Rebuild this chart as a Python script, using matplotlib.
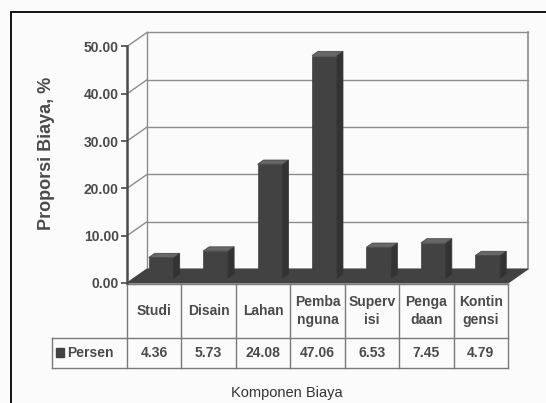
import matplotlib.pyplot as plt
from matplotlib.patches import Polygon, Rectangle

plt.rcParams['font.family'] = ['Liberation Sans', 'DejaVu Sans']

# cost components and their share of the total (%)
komponen = ['Studi', 'Disain', 'Lahan', 'Pemba\nnguna', 'Superv\nisi', 'Penga\ndaan', 'Kontin\ngensi']
persen = [4.36, 5.73, 24.08, 47.06, 6.53, 7.45, 4.79]
y_ticks = [0, 10, 20, 30, 40, 50]

bar_color = '#424242'
top_color = '#676767'
side_color = '#333333'
grid_color = '#8c8c8c'
text_color = '#4a4a4a'

fig = plt.figure(figsize=(5.46, 4.03), dpi=100)
fig.patch.set_facecolor('#fbfbfb')

# front plane of the 3d box: x 127..508 px, y 46.5..283 px
ax = fig.add_axes([127 / 546, 1 - 283 / 403, 381 / 546, 236.5 / 403])
ax.set_facecolor('none')
n = len(komponen)
ax.set_xlim(-0.5, n - 0.5)
ax.set_ylim(0, 50)

# depth of the box in data units (oblique projection)
DX = 20 / 54.43
DY = 14 / 4.73

# back wall, left wall slants and gridlines
x_back0, x_back1 = -0.5 + DX, n - 0.5 + DX
for v in y_ticks[1:]:
    ax.plot([-0.5, x_back0], [v, v + DY], color=grid_color, lw=1.0, clip_on=False, zorder=1)
    ax.plot([x_back0, x_back1], [v + DY, v + DY], color=grid_color, lw=1.0, clip_on=False, zorder=1)
ax.plot([x_back0, x_back0], [DY, 50 + DY], color=grid_color, lw=1.0, clip_on=False, zorder=1)
ax.plot([x_back1, x_back1], [DY, 50 + DY], color=grid_color, lw=1.2, clip_on=False, zorder=1)

# floor
floor = Polygon([(-0.5, 0), (n - 0.5, 0), (x_back1, DY), (x_back0, DY)],
                closed=True, facecolor=bar_color, edgecolor=bar_color, lw=0.8,
                clip_on=False, zorder=2)
ax.add_patch(floor)

# 3d columns: front face via bar, plus top and side faces
d0, d1 = 0.35, 0.65
w = 25 / 54.43
xs = [i + d0 * DX for i in range(n)]
ax.bar(xs, persen, width=w, bottom=d0 * DY, color=bar_color, edgecolor=bar_color,
       lw=0.5, clip_on=False, zorder=3)
ddx, ddy = (d1 - d0) * DX, (d1 - d0) * DY
for x, v in zip(xs, persen):
    xl, xr = x - w / 2, x + w / 2
    yt = v + d0 * DY
    top = Polygon([(xl, yt), (xr, yt), (xr + ddx, yt + ddy), (xl + ddx, yt + ddy)],
                  closed=True, facecolor=top_color, edgecolor=bar_color, lw=0.5,
                  clip_on=False, zorder=3)
    side = Polygon([(xr, d0 * DY), (xr, yt), (xr + ddx, yt + ddy), (xr + ddx, d0 * DY + ddy)],
                   closed=True, facecolor=side_color, edgecolor=side_color, lw=0.5,
                   clip_on=False, zorder=3)
    ax.add_patch(side)
    ax.add_patch(top)

# axis styling
for s in ['top', 'right', 'bottom']:
    ax.spines[s].set_visible(False)
ax.spines['left'].set_color('#4a4a4a')
ax.spines['left'].set_linewidth(1.8)
ax.spines['left'].set_zorder(4)
ax.set_xticks([])
ax.set_yticks(y_ticks)
ax.set_yticklabels([f'{t:.2f}' for t in y_ticks], fontsize=10, fontweight='bold', color=text_color)
ax.tick_params(axis='y', direction='out', length=4, width=1.2, pad=2, color='#4a4a4a')
ax.set_ylabel('Proporsi Biaya, %', fontsize=13, fontweight='bold', color=text_color)
ax.yaxis.set_label_coords(-0.19, 0.55)

# data table under the chart (x in data units, y in axes fraction)
tr = ax.get_xaxis_transform()
line_kw = dict(color='#7a7a7a', lw=1.0, transform=tr, clip_on=False)
y_head_top, y_head_bot, y_row_bot = -0.005, -0.2326, -0.3594
x_leg = -0.5 - 75 / 54.43
ax.plot([-0.5, n - 0.5], [y_head_top, y_head_top], **line_kw)
ax.plot([x_leg, n - 0.5], [y_head_bot, y_head_bot], **line_kw)
ax.plot([x_leg, n - 0.5], [y_row_bot, y_row_bot], **line_kw)
ax.plot([x_leg, x_leg], [y_head_bot, y_row_bot], **line_kw)
for i in range(n + 1):
    ax.plot([i - 0.5, i - 0.5], [y_head_top, y_row_bot], **line_kw)

for i, (k, v) in enumerate(zip(komponen, persen)):
    ax.text(i, (y_head_top + y_head_bot) / 2, k, transform=tr, ha='center', va='center',
            fontsize=10, fontweight='bold', color=text_color, linespacing=1.35)
    ax.text(i, (y_head_bot + y_row_bot) / 2, f'{v:.2f}', transform=tr, ha='center',
            va='center', fontsize=10, fontweight='bold', color=text_color)

ax.add_patch(Rectangle((-0.5 - 71 / 54.43, -0.313), 8 / 54.43, 0.038, transform=tr,
                       facecolor=bar_color, edgecolor=bar_color, clip_on=False))
ax.text(-0.5 - 60 / 54.43, (y_head_bot + y_row_bot) / 2, 'Persen', transform=tr,
        ha='left', va='center', fontsize=10, fontweight='bold', color=text_color)

fig.text(287 / 546, 1 - 386 / 403, 'Komponen Biaya', ha='center', va='top',
         fontsize=10.5, color='#333333')

# outer frame (right and bottom edges run off the canvas)
fig.patches.append(Rectangle((11 / 546, -0.1), 1.2, 1 - 12 / 403 + 0.1,
                             transform=fig.transFigure, fill=False,
                             edgecolor='black', lw=1.3))

fig.savefig('out.png', dpi=100, facecolor=fig.get_facecolor())
